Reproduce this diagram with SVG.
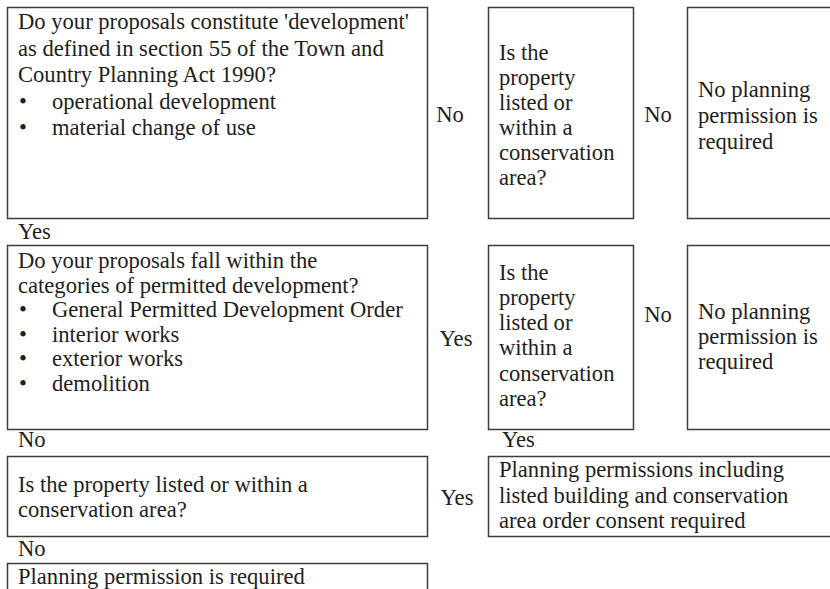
<svg xmlns="http://www.w3.org/2000/svg" width="830" height="589" viewBox="0 0 830 589" font-family="'Liberation Serif', 'Times New Roman', Times, 'DejaVu Serif', serif" font-size="22.6">
<style>
.box{fill:#fff;stroke:#3c3c3c;stroke-width:1.5}
text{fill:#1e1e1e}
</style>
<rect width="830" height="589" fill="#fff"/>
<g id="q1">
<rect class="box" x="7.5" y="7.5" width="420" height="211"/>
<text x="18" y="29">Do your proposals constitute 'development'</text>
<text x="18" y="55.5">as defined in section 55 of the Town and</text>
<text x="18" y="82">Country Planning Act 1990?</text>
<text x="19" y="108.5">•</text><text x="52" y="108.5">operational development</text>
<text x="19" y="135">•</text><text x="52" y="135">material change of use</text>
</g>
<g id="q2">
<rect class="box" x="488.5" y="7.5" width="145" height="211"/>
<text x="499" y="60">Is the</text>
<text x="499" y="85">property</text>
<text x="499" y="110">listed or</text>
<text x="499" y="135">within a</text>
<text x="499" y="160">conservation</text>
<text x="499" y="185">area?</text>
</g>
<g id="r1">
<rect class="box" x="687.5" y="7.5" width="150" height="211"/>
<text x="698" y="97">No planning</text>
<text x="698" y="123">permission is</text>
<text x="698" y="149">required</text>
</g>
<g id="q3">
<rect class="box" x="7.5" y="245.5" width="420" height="184"/>
<text x="18" y="268">Do your proposals fall within the</text>
<text x="18" y="292.5">categories of permitted development?</text>
<text x="19" y="317">•</text><text x="52" y="317">General Permitted Development Order</text>
<text x="19" y="341.5">•</text><text x="52" y="341.5">interior works</text>
<text x="19" y="366">•</text><text x="52" y="366">exterior works</text>
<text x="19" y="390.5">•</text><text x="52" y="390.5">demolition</text>
</g>
<g id="q4">
<rect class="box" x="488.5" y="245.5" width="145" height="184"/>
<text x="499" y="280">Is the</text>
<text x="499" y="305">property</text>
<text x="499" y="330">listed or</text>
<text x="499" y="355">within a</text>
<text x="499" y="381">conservation</text>
<text x="499" y="406">area?</text>
</g>
<g id="r2">
<rect class="box" x="687.5" y="245.5" width="150" height="184"/>
<text x="698" y="319">No planning</text>
<text x="698" y="344">permission is</text>
<text x="698" y="369">required</text>
</g>
<g id="q5">
<rect class="box" x="7.5" y="456.5" width="420" height="80"/>
<text x="18" y="492">Is the property listed or within a</text>
<text x="18" y="517">conservation area?</text>
</g>
<g id="r3">
<rect class="box" x="488.5" y="456.5" width="350" height="80"/>
<text x="499" y="477">Planning permissions including</text>
<text x="499" y="503">listed building and conservation</text>
<text x="499" y="528">area order consent required</text>
</g>
<g id="r4">
<rect class="box" x="7.5" y="563.5" width="420" height="40"/>
<text x="18" y="584">Planning permission is required</text>
</g>
<g id="connectors">
<text x="450" y="122" text-anchor="middle">No</text>
<text x="658" y="122" text-anchor="middle">No</text>
<text x="18" y="239">Yes</text>
<text x="456" y="346" text-anchor="middle">Yes</text>
<text x="658" y="322" text-anchor="middle">No</text>
<text x="18" y="447">No</text>
<text x="502" y="447">Yes</text>
<text x="457" y="505" text-anchor="middle">Yes</text>
<text x="18" y="556">No</text>
</g>
</svg>
